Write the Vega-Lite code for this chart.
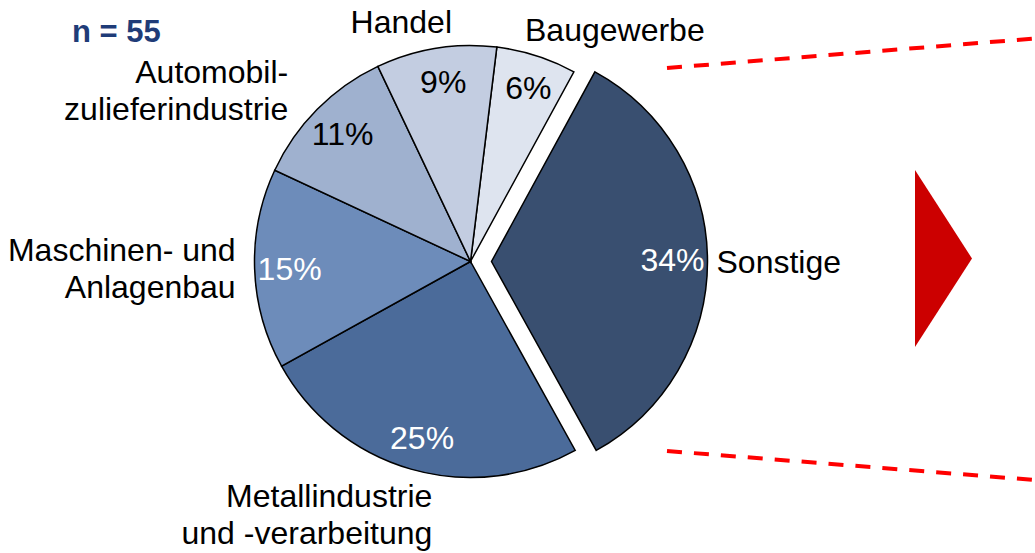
{
  "$schema": "https://vega.github.io/schema/vega-lite/v6.json",
  "width": 941,
  "height": 523,
  "autosize": {"type": "none"},
  "padding": {"left": 0, "top": 0, "right": 94, "bottom": 30},
  "background": "white",
  "config": {"view": {"stroke": null}, "font": "Liberation Sans"},
  "title": {"text": "n = 55", "anchor": "start", "frame": "group", "dx": 72, "dy": 40, "offset": -43, "baseline": "alphabetic", "fontSize": 31, "fontWeight": "bold", "color": "#1f3c78", "font": "Liberation Sans"},
  "datasets": {
    "branchen": [
      {"nr": 1, "branche": "Baugewerbe", "anteil": 0.06, "beschriftung": "Baugewerbe"},
      {"nr": 2, "branche": "Sonstige", "anteil": 0.34, "beschriftung": "Sonstige"},
      {"nr": 3, "branche": "Metallindustrie und -verarbeitung", "anteil": 0.25, "beschriftung": "Metallindustrie\nund -verarbeitung"},
      {"nr": 4, "branche": "Maschinen- und Anlagenbau", "anteil": 0.15, "beschriftung": "Maschinen- und\nAnlagenbau"},
      {"nr": 5, "branche": "Automobilzulieferindustrie", "anteil": 0.11, "beschriftung": "Automobil-\nzulieferindustrie"},
      {"nr": 6, "branche": "Handel", "anteil": 0.09, "beschriftung": "Handel"}
    ],
    "linien": [
      {"linie": "oben", "x": 667, "y": 68, "x2": 1035, "y2": 38.5},
      {"linie": "unten", "x": 667, "y": 451, "x2": 1035, "y2": 480}
    ],
    "pfeil": [
      {"x": 915, "y": 258.5}
    ]
  },
  "layer": [
    {
      "data": {"name": "branchen"},
      "encoding": {
        "theta": {"field": "anteil", "type": "quantitative", "stack": true, "scale": {"range": [0.12217, 6.40536]}},
        "order": {"field": "nr", "type": "quantitative"}
      },
      "layer": [
        {
          "mark": {"type": "arc", "outerRadius": 216, "stroke": "black", "strokeWidth": 1.5},
          "encoding": {
            "color": {"field": "branche", "type": "nominal", "legend": null,
              "scale": {"domain": ["Baugewerbe", "Sonstige", "Metallindustrie und -verarbeitung", "Maschinen- und Anlagenbau", "Automobilzulieferindustrie", "Handel"],
                        "range": ["#dee4ef", "#394f70", "#4b6b9a", "#6d8cba", "#9fb1cf", "#c3cde1"]}},
            "opacity": {"condition": {"test": "datum.branche === 'Sonstige'", "value": 0}, "value": 1}
          }
        },
        {
          "mark": {"type": "arc", "outerRadius": 216, "stroke": "black", "strokeWidth": 1.5, "xOffset": 21},
          "encoding": {
            "color": {"field": "branche", "type": "nominal", "legend": null},
            "opacity": {"condition": {"test": "datum.branche === 'Sonstige'", "value": 1}, "value": 0}
          }
        },
        {
          "mark": {"type": "text", "radius": 183, "fontSize": 32, "align": "center", "baseline": "middle", "dx": 2, "dy": 2},
          "encoding": {
            "text": {"field": "anteil", "type": "quantitative", "format": ".0%"},
            "color": {"condition": {"test": "datum.anteil >= 0.15", "value": "white"}, "value": "black"},
            "opacity": {"condition": {"test": "datum.branche === 'Sonstige'", "value": 0}, "value": 1}
          }
        },
        {
          "mark": {"type": "text", "radius": 181, "fontSize": 32, "align": "center", "baseline": "middle", "xOffset": 21},
          "encoding": {
            "text": {"field": "anteil", "type": "quantitative", "format": ".0%"},
            "color": {"value": "white"},
            "opacity": {"condition": {"test": "datum.branche === 'Sonstige'", "value": 1}, "value": 0}
          }
        },
        {
          "mark": {"type": "text", "radius": 239, "fontSize": 32, "align": "center", "baseline": "alphabetic", "lineBreak": "\n", "lineHeight": 37, "dx": -31, "dy": 7, "color": "black"},
          "encoding": {
            "text": {"field": "beschriftung"},
            "opacity": {"condition": {"test": "datum.branche === 'Handel'", "value": 1}, "value": 0}
          }
        },
        {
          "mark": {"type": "text", "radius": 240, "fontSize": 32, "align": "center", "baseline": "alphabetic", "lineBreak": "\n", "lineHeight": 37, "dx": 71, "dy": 8, "color": "black"},
          "encoding": {
            "text": {"field": "beschriftung"},
            "opacity": {"condition": {"test": "datum.branche === 'Baugewerbe'", "value": 1}, "value": 0}
          }
        },
        {
          "mark": {"type": "text", "radius": 240, "fontSize": 32, "align": "right", "baseline": "alphabetic", "lineBreak": "\n", "lineHeight": 37, "dx": -12, "dy": -9, "color": "black"},
          "encoding": {
            "text": {"field": "beschriftung"},
            "opacity": {"condition": {"test": "datum.branche === 'Automobilzulieferindustrie'", "value": 1}, "value": 0}
          }
        },
        {
          "mark": {"type": "text", "radius": 240, "fontSize": 32, "align": "right", "baseline": "alphabetic", "lineBreak": "\n", "lineHeight": 37, "dx": 5, "dy": -9, "color": "black"},
          "encoding": {
            "text": {"field": "beschriftung"},
            "opacity": {"condition": {"test": "datum.branche === 'Maschinen- und Anlagenbau'", "value": 1}, "value": 0}
          }
        },
        {
          "mark": {"type": "text", "radius": 240, "fontSize": 32, "align": "right", "baseline": "alphabetic", "lineBreak": "\n", "lineHeight": 37, "dx": 28, "dy": 15, "color": "black"},
          "encoding": {
            "text": {"field": "beschriftung"},
            "opacity": {"condition": {"test": "datum.branche === 'Metallindustrie und -verarbeitung'", "value": 1}, "value": 0}
          }
        },
        {
          "mark": {"type": "text", "radius": 230, "fontSize": 32, "align": "left", "baseline": "alphabetic", "lineBreak": "\n", "lineHeight": 37, "dx": 16, "dy": 12, "color": "black"},
          "encoding": {
            "text": {"field": "beschriftung"},
            "opacity": {"condition": {"test": "datum.branche === 'Sonstige'", "value": 1}, "value": 0}
          }
        }
      ]
    },
    {
      "data": {"name": "linien"},
      "mark": {"type": "rule", "color": "#ff0000", "strokeWidth": 4, "strokeDash": [15, 12], "strokeCap": "butt"},
      "encoding": {
        "x": {"field": "x", "type": "quantitative", "axis": null, "scale": {"domain": [0, 941], "nice": false, "zero": false}},
        "y": {"field": "y", "type": "quantitative", "axis": null, "scale": {"domain": [0, 523], "nice": false, "zero": false, "reverse": true}},
        "x2": {"field": "x2"},
        "y2": {"field": "y2"}
      }
    },
    {
      "data": {"name": "pfeil"},
      "mark": {"type": "point", "shape": "M0,-1L0.644,0L0,1Z", "size": 31329, "filled": true, "color": "#cc0000", "opacity": 1, "strokeWidth": 0},
      "encoding": {
        "x": {"field": "x", "type": "quantitative", "axis": null, "scale": {"domain": [0, 941], "nice": false, "zero": false}},
        "y": {"field": "y", "type": "quantitative", "axis": null, "scale": {"domain": [0, 523], "nice": false, "zero": false, "reverse": true}}
      }
    }
  ]
}
